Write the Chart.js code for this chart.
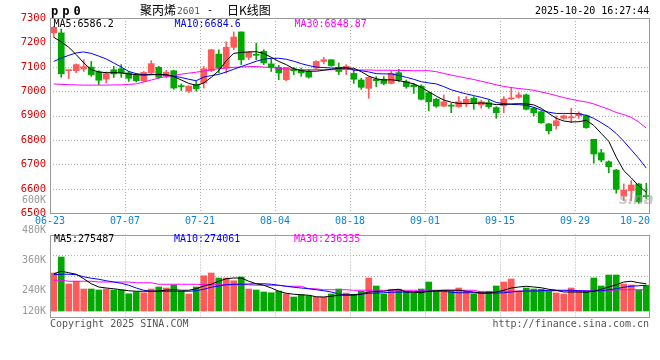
<!DOCTYPE html>
<html>
<head>
<meta charset="utf-8">
<script src="https://cdn.jsdelivr.net/npm/chart.js@4.4.1/dist/chart.umd.min.js"></script>
<style>
  body { margin: 0; background: #fff; }
  #wrap { position: relative; width: 660px; height: 360px; overflow: hidden; background: #fff; }
  #wrap canvas { position: absolute; left: 0; top: 0; }
  .t { position: absolute; white-space: nowrap; font-family: "DejaVu Sans Mono", monospace; font-size: 10px; line-height: 10px; color: #000; }
  .cjk { font-family: "Noto Sans CJK SC", sans-serif; font-size: 12px; line-height: 12px; }
</style>
</head>
<body>
<div id="wrap">
  <canvas id="kline" width="660" height="360"></canvas>
  <div class="t" style="left:51px;top:5px;font-size:12px;line-height:12px;font-weight:bold;letter-spacing:4px">pp0</div>
  <div class="t cjk" style="left:140px;top:4px">聚丙烯</div>
  <div class="t" style="left:177px;top:5.5px;font-size:9.5px;color:#555">2601</div>
  <div class="t" style="left:207px;top:4.5px">-</div>
  <div class="t cjk" style="left:227px;top:4px">日K线图</div>
  <div class="t" style="left:535px;top:6px">2025-10-20 16:27:44</div>

  <div class="t" style="left:53.5px;top:18.5px">MA5:6586.2</div>
  <div class="t" style="left:174.5px;top:18.5px;color:#0000ff">MA10:6684.6</div>
  <div class="t" style="left:294.5px;top:18.5px;color:#ff00ff">MA30:6848.87</div>

  <div class="t" style="left:54px;top:233.5px">MA5:275487</div>
  <div class="t" style="left:174px;top:233.5px;color:#0000ff">MA10:274061</div>
  <div class="t" style="left:294px;top:233.5px;color:#ff00ff">MA30:236335</div>

  <div class="t" style="left:619px;top:192px;font-family:'DejaVu Sans',sans-serif;font-size:15px;line-height:15px;font-weight:bold;font-style:italic;color:rgba(160,160,160,0.55)">sina</div>

  <div class="t" style="left:50px;top:319px;color:#555">Copyright 2025 SINA.COM</div>
  <div class="t" style="left:492.5px;top:319px;color:#555">http://finance.sina.com.cn</div>
</div>

<script>
// trading days shown on the daily K chart
const dates = [
  '06-23','06-24','06-25','06-26','06-27','06-30',
  '07-01','07-02','07-03','07-04','07-07','07-08','07-09','07-10','07-11','07-14','07-15','07-16','07-17','07-18',
  '07-21','07-22','07-23','07-24','07-25','07-28','07-29','07-30','07-31',
  '08-01','08-04','08-05','08-06','08-07','08-08','08-11','08-12','08-13','08-14','08-15','08-18','08-19','08-20',
  '08-21','08-22','08-25','08-26','08-27','08-28','08-29',
  '09-01','09-02','09-03','09-04','09-05','09-08','09-09','09-10','09-11','09-12','09-15','09-16','09-17','09-18',
  '09-19','09-22','09-23','09-24','09-25','09-26','09-29','09-30',
  '10-09','10-10','10-13','10-14','10-15','10-16','10-17','10-20'
];

const open = [
  7239,7239,7084,7084,7091,7099,7079,7050,7088,7092, 7075,7065,7043,7075,7098,7062,7084,7022,7000,7027,
  7034,7084,7152,7095,7180,7243,7139,7152,7163,7112, 7098,7047,7092,7086,7081,7095,7122,7129,7098,7092,
  7073,7046,7012,7049,7049,7032,7076,7039,7026,7021, 6994,6967,6939,6941,6937,6948,6971,6944,6953,6933,
  6940,6969,6975,6985,6930,6916,6866,6859,6889,6891, 6900,6900,6803,6748,6711,6677,6571,6593,6620,6572
];
const high = [
  7265,7255,7088,7112,7129,7122,7084,7079,7102,7109, 7081,7072,7081,7125,7102,7085,7086,7030,7023,7040,
  7102,7172,7170,7202,7243,7243,7163,7197,7170,7133, 7106,7098,7098,7095,7088,7125,7139,7129,7116,7109,
  7087,7053,7060,7060,7060,7084,7090,7046,7032,7026, 6998,6971,6985,6950,6978,6978,6978,6964,6964,6937,
  6978,7016,6994,6989,6934,6920,6868,6899,6903,6930, 6916,6903,6803,6762,6715,6680,6620,6634,6623,6623
];
const low = [
  7222,7057,7052,7076,7081,7061,7027,7034,7056,7057, 7040,7038,7040,7068,7052,7055,7008,7003,6995,7000,
  7013,7080,7075,7075,7170,7109,7129,7129,7109,7081, 7047,7043,7068,7061,7054,7088,7112,7102,7068,7068,
  7032,7008,6971,7019,7026,7030,7039,7012,6991,6964, 6920,6934,6937,6912,6934,6937,6926,6930,6930,6889,
  6912,6966,6971,6923,6899,6868,6825,6845,6885,6871, 6889,6848,6705,6711,6666,6582,6552,6552,6541,6561
];
const close = [
  7262,7072,7088,7109,7101,7068,7045,7072,7071,7075, 7053,7043,7077,7113,7057,7078,7013,7019,7021,7010,
  7092,7170,7095,7180,7222,7129,7159,7147,7116,7098, 7075,7098,7084,7075,7058,7122,7129,7105,7081,7102,
  7049,7016,7057,7043,7032,7073,7046,7019,7019,6967, 6957,6939,6957,6939,6957,6967,6950,6957,6937,6912,
  6968,6972,6985,6926,6912,6871,6838,6879,6899,6893, 6909,6851,6743,6718,6691,6598,6595,6616,6547,6568
];

// price moving averages as drawn
const ma5 = [
  7221,7202,7180,7150,7116,7088,7079,7076,7076,7075, 7071,7068,7066,7068,7069,7068,7060,7046,7032,7024,
  7034,7057,7084,7125,7155,7159,7161,7162,7155,7139, 7122,7109,7092,7084,7082,7082,7086,7090,7094,7095,
  7094,7080,7062,7051,7046,7047,7043,7038,7030,7016, 6998,6980,6964,6955,6950,6950,6950,6952,6950,6945,
  6946,6948,6949,6948,6944,6930,6909,6889,6878,6874, 6875,6881,6860,6827,6795,6730,6675,6645,6612,6586
];
const ma10 = [
  7122,7136,7147,7157,7161,7155,7144,7132,7116,7099, 7081,7072,7068,7068,7068,7066,7062,7056,7049,7043,
  7058,7064,7069,7079,7090,7101,7112,7123,7131,7135, 7135,7131,7123,7113,7105,7099,7097,7095,7095,7097,
  7087,7084,7079,7072,7071,7071,7065,7057,7049,7039, 7034,7030,7019,7006,6997,6989,6982,6975,6967,6954,
  6949,6946,6945,6942,6934,6923,6914,6909,6909,6909, 6908,6901,6889,6871,6852,6827,6795,6760,6725,6685
];
const ma30 = [
  7030,7028,7027,7026,7025,7025,7025,7025,7026,7026, 7028,7030,7038,7046,7054,7060,7065,7070,7074,7078,
  7083,7088,7092,7095,7098,7099,7101,7101,7099,7097, 7094,7091,7090,7088,7088,7088,7088,7088,7089,7090,
  7087,7087,7087,7086,7086,7086,7085,7085,7084,7084, 7084,7080,7073,7066,7060,7054,7048,7041,7034,7026,
  7020,7015,7011,7008,7004,6997,6990,6982,6974,6967, 6961,6956,6948,6937,6926,6913,6904,6893,6874,6849
];

const volume = [
  308000,372000,264000,275000,244000,244000,240000,244000,240000,240000,
  225000,232000,229000,244000,252000,248000,260000,235000,224000,252000,
  297000,308000,288000,288000,277000,292000,244000,240000,232000,229000,
  236000,225000,212000,221000,217000,211000,211000,224000,244000,228000,
  223000,235000,288000,256000,224000,243000,243000,235000,228000,244000,
  272000,236000,237000,235000,248000,235000,224000,235000,235000,256000,
  272000,284000,236000,248000,244000,243000,235000,228000,224000,248000,
  235000,235000,288000,256000,300000,300000,264000,260000,240000,259000
];
const volMa5 = [
  305000,315000,309000,303000,285000,265000,252000,248000,245000,241000,
  237000,235000,235000,235000,236000,240000,241000,239000,239000,245000,
  256000,263000,275000,285000,288000,288000,275000,265000,259000,248000,
  235000,227000,223000,221000,219000,213000,212000,215000,219000,220000,
  221000,224000,232000,235000,235000,240000,243000,232000,231000,229000,
  235000,237000,239000,239000,239000,235000,232000,228000,229000,232000,
  239000,248000,252000,255000,252000,249000,243000,239000,232000,232000,
  232000,231000,235000,243000,252000,261000,272000,275000,269000,265000
];
const volMa10 = [
  301000,303000,303000,301000,293000,287000,283000,277000,272000,267000,
  259000,248000,239000,235000,235000,235000,235000,235000,235000,237000,
  243000,251000,256000,261000,263000,263000,264000,265000,265000,263000,
  259000,255000,251000,248000,245000,241000,237000,232000,224000,220000,
  219000,223000,227000,228000,229000,231000,232000,232000,233000,235000,
  235000,235000,235000,231000,229000,229000,229000,227000,227000,228000,
  229000,232000,235000,236000,236000,237000,239000,239000,239000,239000,
  237000,236000,236000,237000,241000,245000,251000,255000,257000,259000
];
const volMa30 = [
  279000,279000,275000,275000,275000,275000,272000,272000,272000,272000,
  272000,269000,269000,269000,263000,263000,263000,263000,263000,263000,
  261000,261000,261000,261000,261000,261000,261000,259000,259000,259000,
  259000,255000,255000,255000,245000,245000,241000,241000,241000,241000,
  239000,239000,239000,239000,239000,239000,239000,239000,239000,239000,
  239000,239000,239000,239000,239000,239000,239000,232000,232000,232000,
  235000,235000,235000,235000,235000,235000,237000,237000,237000,237000,
  237000,237000,237000,237000,237000,241000,241000,241000,241000,241000
];

// axis labels
const priceTicks = [6500, 6600, 6700, 6800, 6900, 7000, 7100, 7200, 7300];
const volLabels = [600000, 480000, 360000, 240000, 120000];
const dateTicks = [0, 10, 20, 30, 40, 50, 60, 70, 79];

const UP = '#ff5a5a';
const DOWN = '#00a800';
const PRICE_AXIS_MIN = 6071;   // price value at the very bottom of the plot area
const VOL_AXIS_MIN = 128000;
const VOL_AXIS_MAX = 1328000;
const VOL_BAR_BASE = 156000;
const VOL_PANE_TOP = 462000;
const MONO = '"DejaVu Sans Mono", monospace';

const candleColors = close.map((c, i) => (c >= open[i] ? UP : DOWN));
const at = arr => arr.map((v, i) => ({ x: i + 0.5, y: v }));

// grid, frames and the extra labels Sina draws outside the axes
const sinaPanes = {
  id: 'sinaPanes',
  beforeDatasetsDraw(chart) {
    const { ctx, scales: { x, y, yv } } = chart;
    const left = x.getPixelForValue(0);
    const right = x.getPixelForValue(dates.length);
    const pTop = y.getPixelForValue(priceTicks[priceTicks.length - 1]);
    const pBot = y.getPixelForValue(priceTicks[0]);
    const vTop = yv.getPixelForValue(VOL_PANE_TOP);
    const vBot = yv.getPixelForValue(VOL_AXIS_MIN);
    const crisp = v => Math.round(v) + 0.5;

    ctx.save();
    ctx.lineWidth = 1;
    ctx.strokeStyle = '#b0b0b0';
    ctx.setLineDash([1, 2]);
    ctx.beginPath();
    dateTicks.slice(1, -1).forEach(d => {
      const gx = crisp(x.getPixelForValue(d));
      ctx.moveTo(gx, pTop); ctx.lineTo(gx, pBot);
      ctx.moveTo(gx, vTop); ctx.lineTo(gx, vBot);
    });
    priceTicks.slice(1, -1).forEach(t => {
      const gy = crisp(y.getPixelForValue(t));
      ctx.moveTo(left, gy); ctx.lineTo(right, gy);
    });
    for (let k = 1; k < 4; k++) {
      const gy = crisp(vTop + (vBot - vTop) * k / 4);
      ctx.moveTo(left, gy); ctx.lineTo(right, gy);
    }
    ctx.stroke();
    ctx.restore();
  },
  afterDatasetsDraw(chart) {
    const { ctx, scales: { x, y, yv } } = chart;
    const left = Math.round(x.getPixelForValue(0)) + 0.5;
    const right = Math.round(x.getPixelForValue(dates.length)) - 0.5;
    const pTop = Math.round(y.getPixelForValue(priceTicks[priceTicks.length - 1])) + 0.5;
    const pBot = Math.round(y.getPixelForValue(priceTicks[0])) + 0.5;
    const vTop = Math.round(yv.getPixelForValue(VOL_PANE_TOP)) + 0.5;
    const vBot = Math.round(yv.getPixelForValue(VOL_AXIS_MIN)) - 0.5;
    ctx.save();
    ctx.lineWidth = 1;
    ctx.strokeStyle = '#999';
    ctx.strokeRect(left, pTop, right - left, pBot - pTop);
    ctx.strokeRect(left, vTop, right - left, vBot - vTop);
    ctx.restore();
  },
  afterDraw(chart) {
    const { ctx, scales: { x, y, yv } } = chart;
    const pBot = y.getPixelForValue(priceTicks[0]);
    const vBot = yv.getPixelForValue(VOL_AXIS_MIN);
    ctx.save();
    ctx.font = '10px ' + MONO;
    ctx.textBaseline = 'middle';

    ctx.fillStyle = '#0a84d8';
    dateTicks.forEach((d, k) => {
      const last = k === dateTicks.length - 1;
      ctx.textAlign = last ? 'right' : 'center';
      const lx = last ? x.getPixelForValue(dates.length) : x.getPixelForValue(d);
      ctx.fillText(dates[d], lx, pBot + 8);
    });

    ctx.fillStyle = '#999';
    ctx.textAlign = 'right';
    volLabels.forEach(v => {
      const ly = Math.min(yv.getPixelForValue(v), vBot - 7);
      ctx.fillText(Math.round(v / 1000) + 'K', 46, ly);
    });
    ctx.restore();
  }
};

new Chart(document.getElementById('kline'), {
  type: 'bar',
  data: {
    datasets: [
      { type: 'line', data: at(ma5), yAxisID: 'y', borderColor: '#000', borderWidth: 1, pointRadius: 0, order: 0 },
      { type: 'line', data: at(ma10), yAxisID: 'y', borderColor: '#0000ff', borderWidth: 1, pointRadius: 0, order: 0 },
      { type: 'line', data: at(ma30), yAxisID: 'y', borderColor: '#ff00ff', borderWidth: 1, pointRadius: 0, order: 0 },
      { type: 'line', data: at(volMa5), yAxisID: 'yv', borderColor: '#000', borderWidth: 1, pointRadius: 0, order: 0 },
      { type: 'line', data: at(volMa10), yAxisID: 'yv', borderColor: '#0000ff', borderWidth: 1, pointRadius: 0, order: 0 },
      { type: 'line', data: at(volMa30), yAxisID: 'yv', borderColor: '#ff00ff', borderWidth: 1, pointRadius: 0, order: 0 },
      {
        data: open.map((o, i) => ({ x: i + 0.5, y: [o, close[i]] })),
        yAxisID: 'y', backgroundColor: candleColors, barThickness: 6, minBarLength: 1, grouped: false, order: 1
      },
      {
        data: low.map((l, i) => ({ x: i + 0.5, y: [l, high[i]] })),
        yAxisID: 'y', backgroundColor: candleColors, barThickness: 1, grouped: false, order: 2
      },
      {
        data: at(volume),
        yAxisID: 'yv', base: VOL_BAR_BASE, backgroundColor: candleColors, barThickness: 6, grouped: false, order: 1
      }
    ]
  },
  options: {
    responsive: false,
    animation: false,
    events: [],
    layout: { padding: { top: 18, right: 10, bottom: 42, left: 0 } },
    plugins: { legend: { display: false }, tooltip: { enabled: false } },
    scales: {
      x: { type: 'linear', min: 0, max: dates.length, offset: false, display: false },
      y: {
        position: 'left',
        min: PRICE_AXIS_MIN,
        max: priceTicks[priceTicks.length - 1],
        afterBuildTicks: s => { s.ticks = priceTicks.map(v => ({ value: v })); },
        afterFit: s => { s.width = 50; },
        grid: { display: false, drawTicks: false },
        border: { display: false },
        ticks: {
          color: '#e00000', padding: 4, autoSkip: false,
          font: { family: MONO, size: 10.5 },
          callback: v => String(v)
        }
      },
      yv: { position: 'right', min: VOL_AXIS_MIN, max: VOL_AXIS_MAX, display: false }
    }
  },
  plugins: [sinaPanes]
});
</script>
</body>
</html>
